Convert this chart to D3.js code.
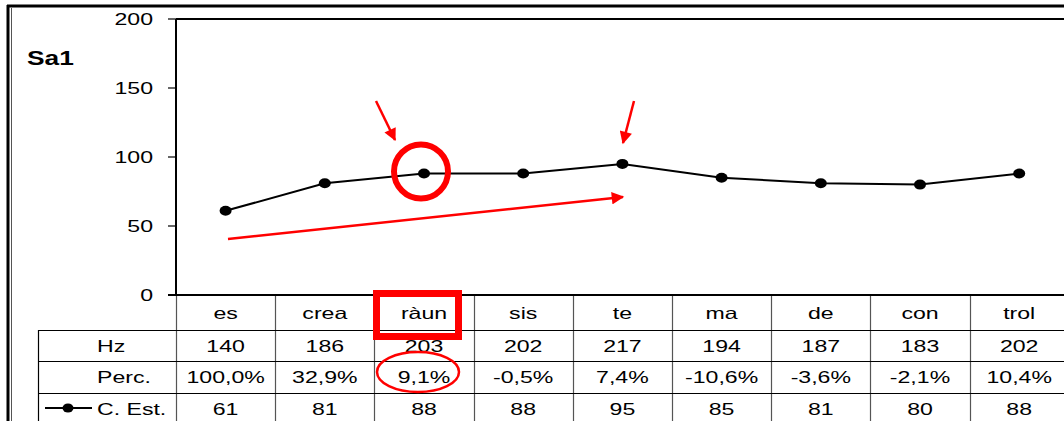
<!DOCTYPE html>
<html>
<head>
<meta charset="utf-8">
<script src="https://cdn.jsdelivr.net/npm/d3@7"></script>
<style>
    body { margin: 0; background: #fff; }
    svg { display: block; font-family: "Liberation Sans", Arial, sans-serif; }
</style>
</head>
<body>
<svg id="chart" width="1064" height="421"></svg>
<script>
// data
var syllables = ["es", "crea", "ràun", "sis", "te", "ma", "de", "con", "trol"];
var hz = [140, 186, 203, 202, 217, 194, 187, 183, 202];
var perc = ["100,0%", "32,9%", "9,1%", "-0,5%", "7,4%", "-10,6%", "-3,6%", "-2,1%", "10,4%"];
var cEst = [61, 81, 88, 88, 95, 85, 81, 80, 88];
var yTicks = [0, 50, 100, 150, 200];
var rowNames = ["Hz", "Perc.", "C. Est."];

var svg = d3.select("#chart");

// the original picture is stretched sideways, so text is too
var stretch = 1.4;
function place(sel, fx, fy) {
    sel.attr("transform", function (d, i) {
        return "translate(" + fx(d, i) + "," + fy(d, i) + ") scale(" + stretch + ",1)";
    });
}

var plotLeft = 176, plotTop = 19, plotBottom = 295, colW = 99.2;
var x = d3.scaleBand().domain(syllables).range([plotLeft, plotLeft + colW * syllables.length]).padding(0);
var y = d3.scaleLinear().domain([0, 200]).range([plotBottom, plotTop]);

// outer frame
svg.append("line").attr("x1", 7).attr("x2", 1064).attr("y1", 6).attr("y2", 6)
    .attr("stroke", "#000").attr("stroke-width", 3);
svg.append("line").attr("x1", 8).attr("x2", 8).attr("y1", 5).attr("y2", 421)
    .attr("stroke", "#000").attr("stroke-width", 3);
svg.append("line").attr("x1", 11.5).attr("x2", 11.5).attr("y1", 8).attr("y2", 421)
    .attr("stroke", "#555").attr("stroke-width", 1);

// title
svg.append("text")
    .attr("transform", "translate(27,65) scale(1.35,1)")
    .attr("font-size", 19.5).attr("font-weight", "bold").text("Sa1");

// y axis
var yAxis = svg.append("g");
yAxis.selectAll("line")
    .data(yTicks)
    .enter().append("line")
    .attr("x1", plotLeft - 8).attr("x2", plotLeft)
    .attr("y1", function (d) { return y(d); })
    .attr("y2", function (d) { return y(d); })
    .attr("stroke", "#000").attr("stroke-width", 1.2);
var yLab = yAxis.selectAll("text")
    .data(yTicks)
    .enter().append("text")
    .attr("text-anchor", "end")
    .attr("font-size", 16.5)
    .text(function (d) { return d; });
place(yLab, function () { return 153; }, function (d) { return y(d) + 6; });

// plot frame
svg.append("line").attr("x1", plotLeft).attr("x2", 1064).attr("y1", plotTop).attr("y2", plotTop)
    .attr("stroke", "#000").attr("stroke-width", 2);
svg.append("line").attr("x1", plotLeft).attr("x2", plotLeft).attr("y1", plotTop).attr("y2", plotBottom)
    .attr("stroke", "#000").attr("stroke-width", 2);

// table
var rowY = [295, 330, 361, 393, 425];
var table = svg.append("g");
// vertical column lines
table.selectAll("line.col")
    .data(syllables.concat(["end"]))
    .enter().append("line")
    .attr("class", "col")
    .attr("x1", function (d, i) { return Math.round(plotLeft + colW * i) + 0.5; })
    .attr("x2", function (d, i) { return Math.round(plotLeft + colW * i) + 0.5; })
    .attr("y1", plotBottom).attr("y2", 421)
    .attr("stroke", "#555").attr("stroke-width", 1.2);
table.append("line").attr("x1", 38.5).attr("x2", 38.5).attr("y1", rowY[1]).attr("y2", 421)
    .attr("stroke", "#000").attr("stroke-width", 1.2);
// horizontal row lines
[1, 2, 3].forEach(function (k) {
    table.append("line").attr("x1", 38).attr("x2", 1064)
        .attr("y1", rowY[k] + 0.5).attr("y2", rowY[k] + 0.5)
        .attr("stroke", "#000").attr("stroke-width", 1.2);
});
// x axis line
svg.append("line").attr("x1", 168).attr("x2", 1064).attr("y1", plotBottom).attr("y2", plotBottom)
    .attr("stroke", "#000").attr("stroke-width", 2);

// header (categories) and cells
var rows = [syllables, hz, perc, cEst];
rows.forEach(function (vals, r) {
    var t = table.selectAll("text.r" + r)
        .data(vals)
        .enter().append("text")
        .attr("class", "r" + r)
        .attr("text-anchor", "middle")
        .attr("font-size", 16.5)
        .text(function (d) { return d; });
    place(t,
        function (d, i) { return x(syllables[i]) + x.bandwidth() / 2; },
        function () { return (rowY[r] + rowY[r + 1]) / 2 + 6; });
});
// row names
var names = table.selectAll("text.name")
    .data(rowNames)
    .enter().append("text")
    .attr("class", "name")
    .attr("font-size", 16.5)
    .text(function (d) { return d; });
place(names, function () { return 97; }, function (d, i) { return (rowY[i + 1] + rowY[i + 2]) / 2 + 6; });
// legend marker
var legY = (rowY[3] + rowY[4]) / 2 - 1;
table.append("line").attr("x1", 45).attr("x2", 92).attr("y1", legY).attr("y2", legY)
    .attr("stroke", "#000").attr("stroke-width", 2);
table.append("ellipse").attr("cx", 68).attr("cy", legY).attr("rx", 5.5).attr("ry", 4.5).attr("fill", "#000");

// series line
var line = d3.line()
    .x(function (d, i) { return x(syllables[i]) + x.bandwidth() / 2; })
    .y(function (d) { return y(d); });
svg.append("path").datum(cEst)
    .attr("d", line).attr("fill", "none").attr("stroke", "#000").attr("stroke-width", 2);
svg.selectAll("ellipse.pt")
    .data(cEst)
    .enter().append("ellipse")
    .attr("class", "pt")
    .attr("cx", function (d, i) { return x(syllables[i]) + x.bandwidth() / 2; })
    .attr("cy", function (d) { return y(d); })
    .attr("rx", 6).attr("ry", 5)
    .attr("fill", "#000");

// red annotations
var red = "#ff0000";
var defs = svg.append("defs");
defs.append("marker").attr("id", "head")
    .attr("viewBox", "0 0 10 10").attr("refX", 9).attr("refY", 5)
    .attr("markerWidth", 6).attr("markerHeight", 5).attr("orient", "auto")
    .attr("markerUnits", "strokeWidth")
    .append("path").attr("d", "M0,0 L10,5 L0,10 z").attr("fill", red);

var ann = svg.append("g");
var cx3 = x("ràun") + x.bandwidth() / 2;
ann.append("circle").attr("cx", cx3 - 3).attr("cy", y(88) - 2).attr("r", 27)
    .attr("fill", "none").attr("stroke", red).attr("stroke-width", 6);
ann.append("line").attr("x1", 376).attr("y1", 101).attr("x2", 395).attr("y2", 140)
    .attr("stroke", red).attr("stroke-width", 2.5).attr("marker-end", "url(#head)");
ann.append("line").attr("x1", 634).attr("y1", 101).attr("x2", 623).attr("y2", 143)
    .attr("stroke", red).attr("stroke-width", 2.5).attr("marker-end", "url(#head)");
ann.append("line").attr("x1", 228).attr("y1", 239).attr("x2", 623).attr("y2", 197)
    .attr("stroke", red).attr("stroke-width", 2.5).attr("marker-end", "url(#head)");
ann.append("rect").attr("x", 376.5).attr("y", 293.5).attr("width", 82).attr("height", 43)
    .attr("fill", "none").attr("stroke", red).attr("stroke-width", 7);
ann.append("ellipse").attr("cx", 418).attr("cy", 372).attr("rx", 41).attr("ry", 20)
    .attr("fill", "none").attr("stroke", red).attr("stroke-width", 2.5);
</script>
</body>
</html>
